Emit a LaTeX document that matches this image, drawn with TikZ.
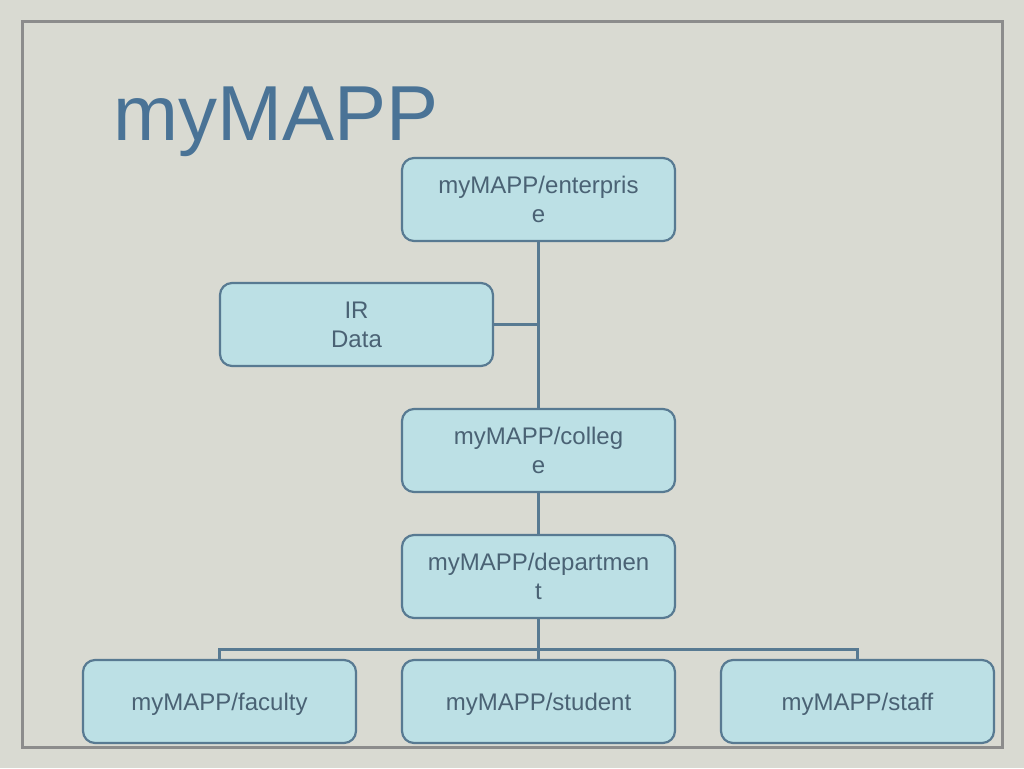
\documentclass[tikz,border=0pt]{standalone}
\usepackage{fontspec}
\setmainfont{Liberation Sans}
\usetikzlibrary{positioning, calc}

\definecolor{slidebg}{HTML}{D9DAD2}
\definecolor{framegray}{HTML}{8C8C8C}
\definecolor{boxfill}{HTML}{BCE0E5}
\definecolor{boxline}{HTML}{587A92}
\definecolor{boxtext}{HTML}{4A6274}
\definecolor{titleblue}{HTML}{4A7396}

\begin{document}
\begin{tikzpicture}[
		font=\fontsize{24}{29}\selectfont,
		node distance=42pt,
		unit/.style={draw=boxline, line width=2.2pt, fill=boxfill, rounded corners=12pt, align=center, text=boxtext, minimum width=273pt, minimum height=83pt, inner sep=0pt, outer sep=0pt, text depth=0pt},
		link/.style={draw=boxline, line width=3pt}
		]
		
		% Slide background and frame
		\useasboundingbox[fill=slidebg] (0,0) rectangle (1024pt,-768pt);
		\draw[framegray, line width=3pt] (22pt,-22pt) rectangle (1002pt,-747pt);
		
		% Title
		\node (title) [anchor=base west, inner sep=0pt, text=titleblue, font=\fontsize{78}{82}\selectfont] at (113pt,-140pt) {myMAPP};
		
		% Units
		\node (enterprise) [unit] at (538.5pt,-199.5pt) {myMAPP/enterpris\\e};
		\node (irdata) [unit, below=42pt of enterprise, xshift=-182pt] {IR\\Data};
		\node (college) [unit, below=168pt of enterprise] {myMAPP/colleg\\e};
		\node (department) [unit, below=43pt of college] {myMAPP/departmen\\t};
		
		% Bottom row
		\node (student) [unit, below=42pt of department] {myMAPP/student};
		\node (faculty) [unit, left=46pt of student] {myMAPP/faculty};
		\node (staff) [unit, right=46pt of student] {myMAPP/staff};
		
		% Connectors
		\coordinate (bus) at ($(student.north)+(0,11pt)$);
		\begin{scope}[on background layer/.try]
		\draw[link] (enterprise.south) -- (college.north);
		\draw[link] (irdata.east) -- (irdata.east -| enterprise.south);
		\draw[link] (college.south) -- (department.north);
		\draw[link] (department.south) -- (student.north);
		\draw[link] (faculty.north) |- (bus) -| (staff.north);
		\end{scope}
		
	\end{tikzpicture}
\end{document}
